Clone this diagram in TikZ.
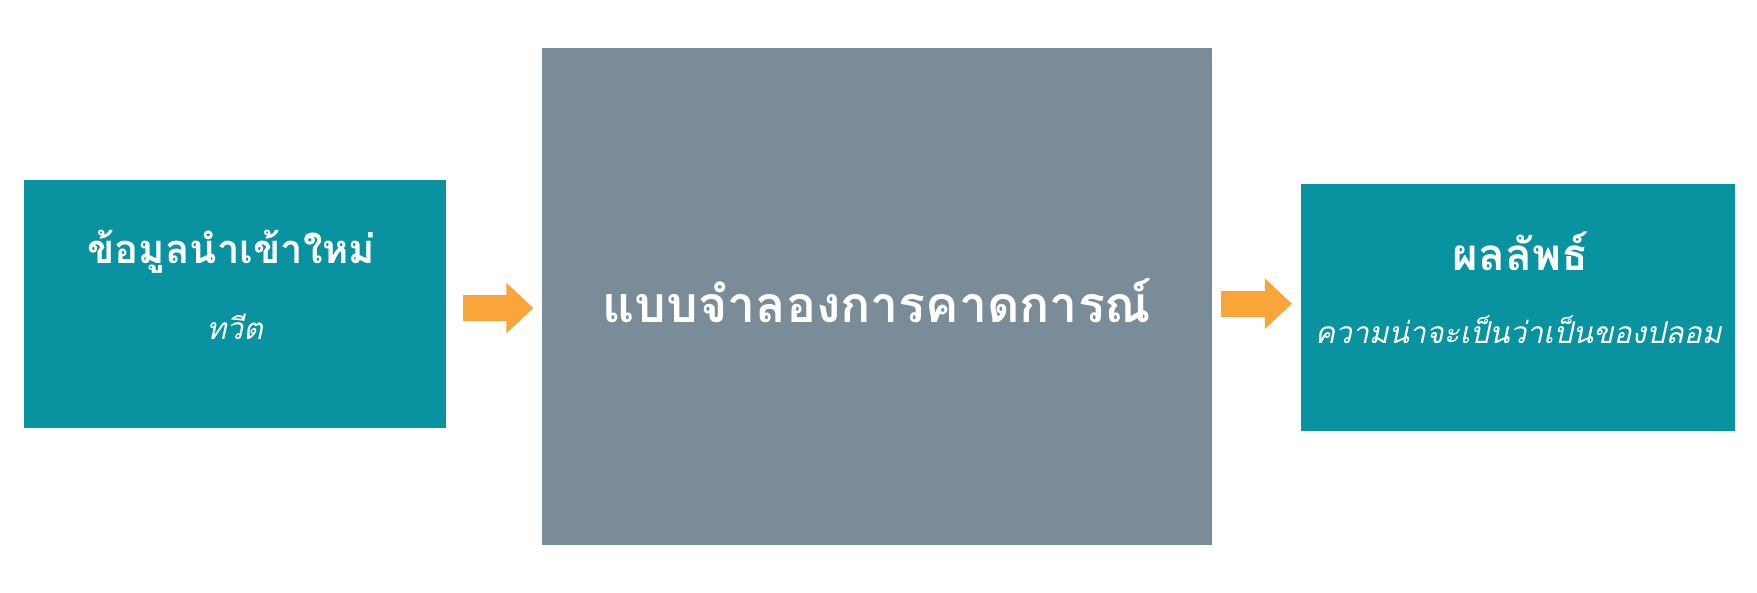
\documentclass[tikz,border=0pt]{standalone}
\usepackage{fontspec}
\usetikzlibrary{arrows.meta}
\newfontfamily\thaifont[Script=Thai]{Loma}
\definecolor{tealbox}{RGB}{9,146,159}
\definecolor{greybox}{RGB}{122,140,151}
\definecolor{arroworange}{RGB}{250,165,58}
\tikzset{
  boxshape/.style={rectangle, inner sep=0pt, outer sep=0pt},
  tealstyle/.style={boxshape, fill=tealbox},
  greystyle/.style={boxshape, fill=greybox},
  titletext/.style={text=white, font=\thaifont\bfseries\fontsize{40}{46}\selectfont, inner sep=0pt},
  bigtext/.style={text=white, font=\thaifont\bfseries\fontsize{50}{56}\selectfont, inner sep=0pt},
  subtext/.style={text=white, font=\thaifont\itshape\fontsize{30}{36}\selectfont, inner sep=0pt},
  flowarrow/.style={draw=arroworange, line width=26pt, -{Triangle[length=27pt,width=49pt]}}
}
\begin{document}
\begin{tikzpicture}[x=1pt,y=1pt]
\useasboundingbox (0,0) rectangle (1757,592);
% boxes
\node[tealstyle, minimum width=422.5pt, minimum height=247.6pt] (inbox) at (234.8,287.8) {};
\node[greystyle, minimum width=670.1pt, minimum height=496.4pt] (model) at (877.4,295.6) {};
\node[tealstyle, minimum width=433.6pt, minimum height=247.6pt] (outbox) at (1517.7,284.4) {};
% texts
\node[titletext] (intitle) at (231.4,340) {ข้อมูลนำเข้าใหม่};
\node[subtext] (insub) at (234.7,265) {ทวีต};
\node[bigtext] (modeltitle) at (876.8,291.5) {แบบจำลองการคาดการณ์};
\node[titletext, font=\thaifont\bfseries\fontsize{44}{50}\selectfont] (outtitle) at (1520.5,341) {ผลลัพธ์};
\node[subtext] (outsub) at (1518.3,262.6) {ความน่าจะเป็นว่าเป็นของปลอม};
% arrows
\coordinate (a1s) at ([yshift=-3.9pt]inbox.east);
\coordinate (a2s) at ([yshift=-7.3pt]model.east);
\draw[flowarrow, shorten <=16.8pt, shorten >=9pt] (a1s) -- (a1s -| model.west);
\draw[flowarrow, shorten <=9pt, shorten >=9pt] (a2s) -- (a2s -| outbox.west);
\end{tikzpicture}
\end{document}
